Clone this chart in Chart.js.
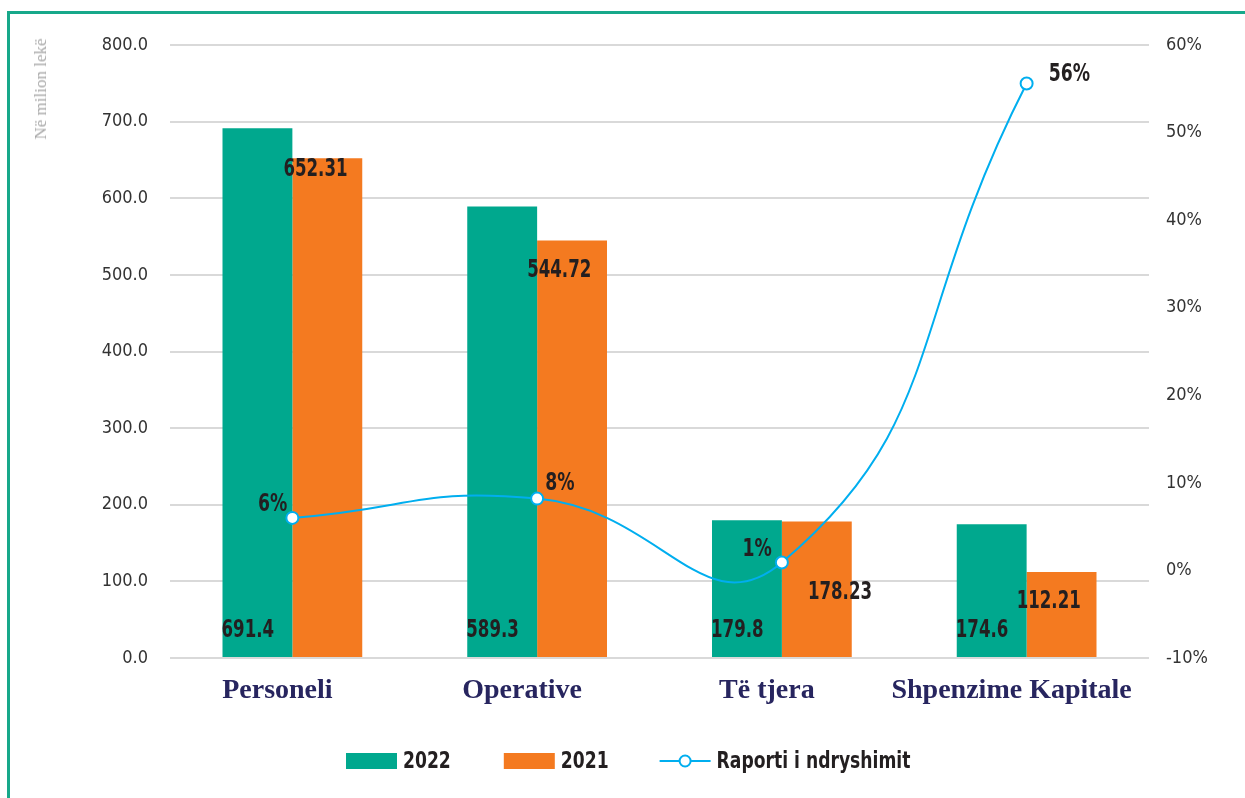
<!DOCTYPE html>
<html>
<head>
<meta charset="utf-8">
<script src="https://cdn.jsdelivr.net/npm/chart.js@4.4.0/dist/chart.umd.min.js"></script>
<style>
  html, body { margin: 0; padding: 0; background: #fff; }
  #wrap { position: relative; width: 1245px; height: 798px; overflow: hidden; }
  #frame { position: absolute; left: 7px; top: 11px; width: 1300px; height: 900px;
    border-top: 3px solid #17a88a; border-left: 3px solid #17a88a; }
  #unit { position: absolute; left: 41px; top: 89px; transform: translate(-50%, -50%) rotate(-90deg);
    font-family: "Liberation Serif", serif; font-size: 17px; color: #a8a8a8; white-space: nowrap; }
  canvas { position: absolute; left: 0; top: 0; }
</style>
</head>
<body>
<div id="wrap">
  <div id="frame"></div>
  <canvas id="chart" width="1245" height="798"></canvas>
  <div id="unit">Në milion lekë</div>
</div>
<script>
const categories = ["Personeli", "Operative", "Të tjera", "Shpenzime Kapitale"];
const values2022 = [691.4, 589.3, 179.8, 174.6];
const values2021 = [652.31, 544.72, 178.23, 112.21];
const changeRatio = [0.06, 0.082, 0.009, 0.556];
const ratioLabels = ["6%", "8%", "1%", "56%"];

// label placement (pixels), kept apart from the values
const offsets2021 = [[-9, 12], [-10, 30], [26, 71], [-10, 30]];
const ratioOffsets = [[-5, -13, "right"], [8, -15, "left"], [-10, -13, "right"], [22, -9, "left"]];

const TEAL = "#00a88e";
const ORANGE = "#f47a20";
const BLUE = "#00aeef";
const narrow = '"DejaVu Sans Condensed", "DejaVu Sans", sans-serif';
const labelFont = "bold 24px " + narrow;

// condensed text: draw with a horizontal squeeze
function squeezedText(ctx, text, x, y, align, k) {
  const w = ctx.measureText(text).width * k;
  let left = x;
  if (align === "right") left = x - w;
  else if (align === "center") left = x - w / 2;
  ctx.save();
  ctx.translate(left, y);
  ctx.scale(k, 1);
  ctx.textAlign = "left";
  ctx.fillText(text, 0, 0);
  ctx.restore();
  return w;
}

const valueLabels = {
  id: "valueLabels",
  afterDatasetsDraw(chart) {
    const ctx = chart.ctx;
    ctx.save();
    ctx.font = labelFont;
    ctx.fillStyle = "#231f20";
    ctx.textBaseline = "middle";
    chart.getDatasetMeta(0).data.forEach((bar, i) => {
      squeezedText(ctx, values2022[i].toFixed(1), bar.x - bar.width / 2 - 1, bar.base - 26, "left", 0.77);
    });
    chart.getDatasetMeta(1).data.forEach((bar, i) => {
      squeezedText(ctx, values2021[i].toFixed(2), bar.x - bar.width / 2 + offsets2021[i][0], bar.y + offsets2021[i][1], "left", 0.77);
    });
    chart.getDatasetMeta(2).data.forEach((pt, i) => {
      const o = ratioOffsets[i];
      squeezedText(ctx, ratioLabels[i], pt.x + o[0], pt.y + o[1], o[2], 0.8);
    });
    ctx.restore();
  }
};

const bottomLegend = {
  id: "bottomLegend",
  afterDraw(chart) {
    const ctx = chart.ctx;
    const ds = chart.data.datasets;
    const y = 761;
    const gaps = [53, 51];
    ctx.save();
    ctx.font = "bold 23px " + narrow;
    ctx.textBaseline = "middle";
    let x = 346;
    ds.forEach((d, i) => {
      const sym = 51;
      if (d.type === "line") {
        ctx.strokeStyle = d.borderColor;
        ctx.lineWidth = 2;
        ctx.beginPath();
        ctx.moveTo(x, y); ctx.lineTo(x + sym, y);
        ctx.stroke();
        ctx.beginPath();
        ctx.arc(x + sym / 2, y, 5.5, 0, Math.PI * 2);
        ctx.fillStyle = "#fff";
        ctx.fill();
        ctx.stroke();
      } else {
        ctx.fillStyle = d.backgroundColor;
        ctx.fillRect(x, y - 8, sym, 16);
      }
      x += sym + 6;
      ctx.fillStyle = "#231f20";
      x += squeezedText(ctx, d.label, x, y + 1, "left", 0.83) + (gaps[i] || 0);
    });
    ctx.restore();
  }
};

new Chart(document.getElementById("chart"), {
  data: {
    labels: categories,
    datasets: [
      { type: "bar", label: "2022", data: values2022, backgroundColor: TEAL, yAxisID: "y", order: 1,
        categoryPercentage: 0.571, barPercentage: 1.0 },
      { type: "bar", label: "2021", data: values2021, backgroundColor: ORANGE, yAxisID: "y", order: 1,
        categoryPercentage: 0.571, barPercentage: 1.0 },
      { type: "line", label: "Raporti i ndryshimit", data: changeRatio, yAxisID: "y1", order: 0,
        borderColor: BLUE, borderWidth: 2, tension: 0.5, pointRadius: 6, pointBorderWidth: 2,
        pointBackgroundColor: "#fff", pointBorderColor: BLUE }
    ]
  },
  options: {
    responsive: false,
    animation: false,
    layout: { padding: { top: 45, left: 0, right: 0, bottom: 0 } },
    plugins: { legend: { display: false }, tooltip: { enabled: false } },
    scales: {
      x: {
        grid: { display: false },
        border: { display: false },
        ticks: { color: "#27255f", padding: 8, labelOffset: -15, autoSkip: false, maxRotation: 0, minRotation: 0,
          font: { family: '"Liberation Serif", serif', size: 28, weight: "bold" } },
        afterFit: (s) => { s.height = 140; }
      },
      y: {
        position: "left",
        min: 0, max: 800,
        ticks: { stepSize: 100, padding: 22, color: "#333", font: { family: narrow, size: 18 },
          callback: (v) => v.toFixed(1) },
        grid: { color: "#d9d9d9", lineWidth: 2, drawTicks: false },
        border: { display: false },
        afterFit: (s) => { s.width = 170; }
      },
      y1: {
        position: "right",
        min: -0.1, max: 0.6,
        ticks: { stepSize: 0.1, padding: 17, color: "#333", font: { family: narrow, size: 18 },
          callback: (v) => Math.round(v * 100) + "%" },
        grid: { display: false, drawTicks: false },
        border: { display: false },
        afterFit: (s) => { s.width = 96; }
      }
    }
  },
  plugins: [valueLabels, bottomLegend]
});
</script>
</body>
</html>
